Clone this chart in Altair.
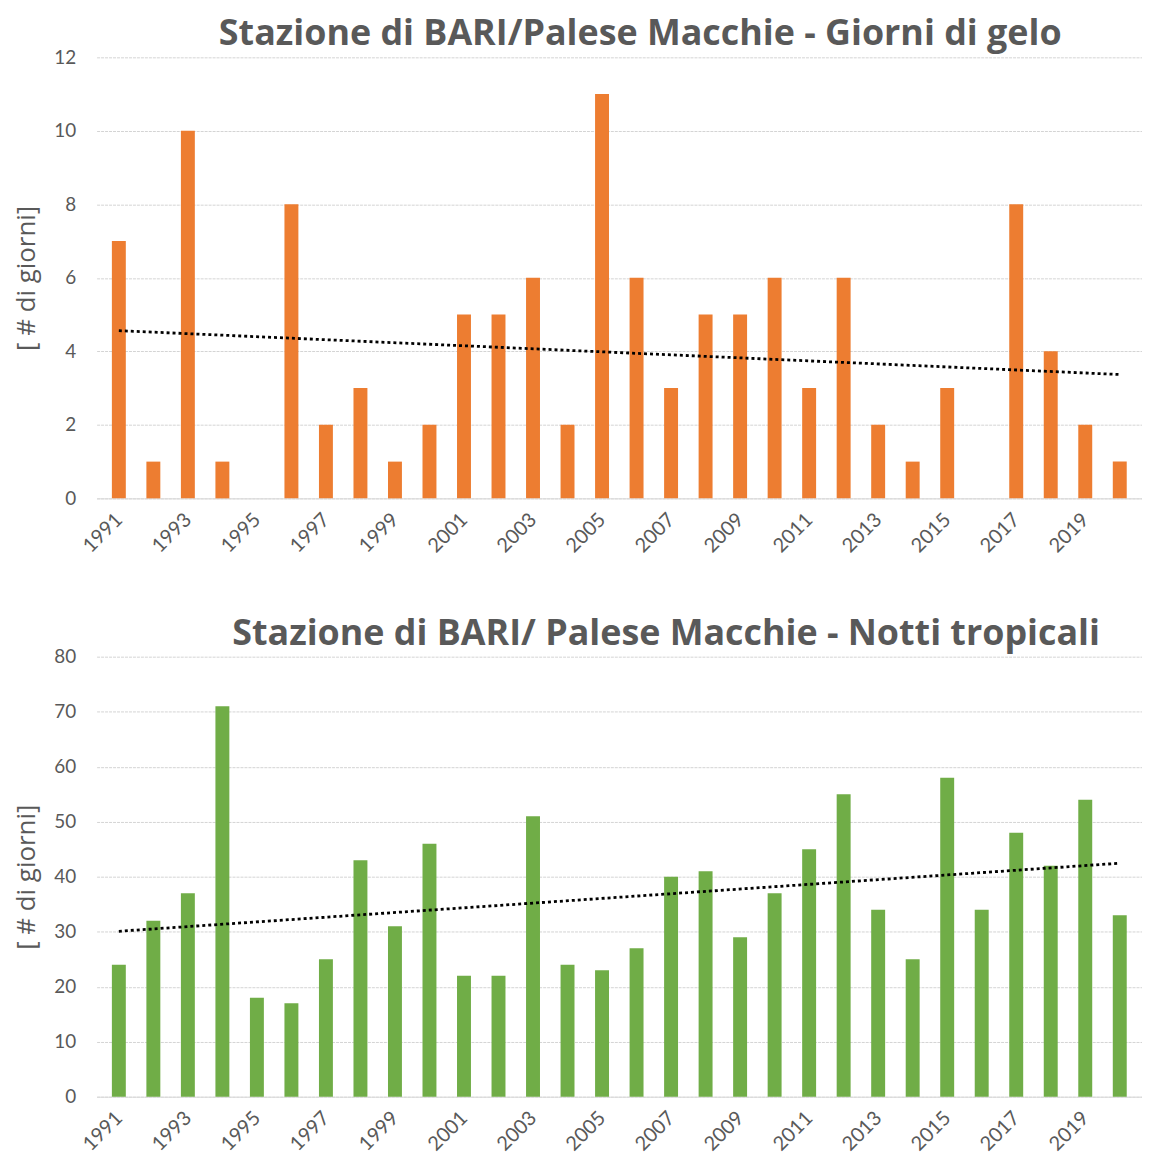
import altair as alt
import pandas as pd

years = list(range(1991, 2021))
giorni_gelo = [7, 1, 10, 1, 0, 8, 2, 3, 1, 2,
               5, 5, 6, 2, 11, 6, 3, 5, 5, 6,
               3, 6, 2, 1, 3, 0, 8, 4, 2, 1]
notti_tropicali = [24, 32, 37, 71, 18, 17, 25, 43, 31, 46,
                   22, 22, 51, 24, 23, 27, 40, 41, 29, 37,
                   45, 55, 34, 25, 58, 34, 48, 42, 54, 33]
label_years = years[::2]

title_top = "Stazione di BARI/Palese Macchie - Giorni di gelo"
title_bottom = "Stazione di BARI/ Palese Macchie - Notti tropicali"
y_title = "[ # di giorni]"

GREY = "#595959"
FONT = "Lato"
TITLE_FONT = "Open Sans"


def panel(values, color, title, ymax, ystep, dx, height):
    df = pd.DataFrame({"anno": years, "giorni": values})
    base = alt.Chart(df)
    x = alt.X(
        "anno:Q",
        scale=alt.Scale(domain=[1990.5, 2020.5], nice=False, zero=False),
        axis=alt.Axis(values=label_years, format="d", labelAngle=-45,
                      labelAlign="right", labelBaseline="middle",
                      grid=False, ticks=False, domain=True,
                      domainColor="#d9d9d9", labelPadding=18,
                      labelFontSize=20),
        title=None,
    )
    y = alt.Y(
        "giorni:Q",
        scale=alt.Scale(domain=[0, ymax], nice=False),
        axis=alt.Axis(values=list(range(0, ymax + 1, ystep)), title=y_title,
                      domain=False, ticks=False, labelPadding=21,
                      titlePadding=14, titleFont=TITLE_FONT, titleFontSize=26,
                      titleFontWeight="normal", titleColor=GREY,
                      gridColor="#d4d4d4", gridDash=[3, 1],
                      labelFontSize=19),
    )
    bars = base.mark_bar(color=color, size=14).encode(x=x, y=y)
    trend = base.transform_regression(
        "anno", "giorni", method="linear"
    ).mark_line(color="black", strokeDash=[3, 3], strokeWidth=2.8).encode(
        x="anno:Q", y="giorni:Q"
    )
    return alt.layer(bars, trend).properties(
        width=1050,
        height=height,
        title=alt.TitleParams(title, font=TITLE_FONT, fontSize=36,
                              fontWeight="bold", color=GREY, anchor="middle",
                              frame="group", dx=dx, offset=-5),
    )


top = panel(giorni_gelo, "#ED7D31", title_top, 12, 2, 21, 443)
bottom = panel(notti_tropicali, "#70AD47", title_bottom, 80, 10, 47, 442)

chart = alt.vconcat(top, bottom, spacing=60).properties(
    padding={"left": 5, "top": 6, "right": 0, "bottom": 0}
).configure_view(stroke=None).configure_axis(
    labelFont=FONT, titleFont=TITLE_FONT, labelColor=GREY
)

chart.save("out.html", embed_options={"renderer": "svg", "actions": False})
